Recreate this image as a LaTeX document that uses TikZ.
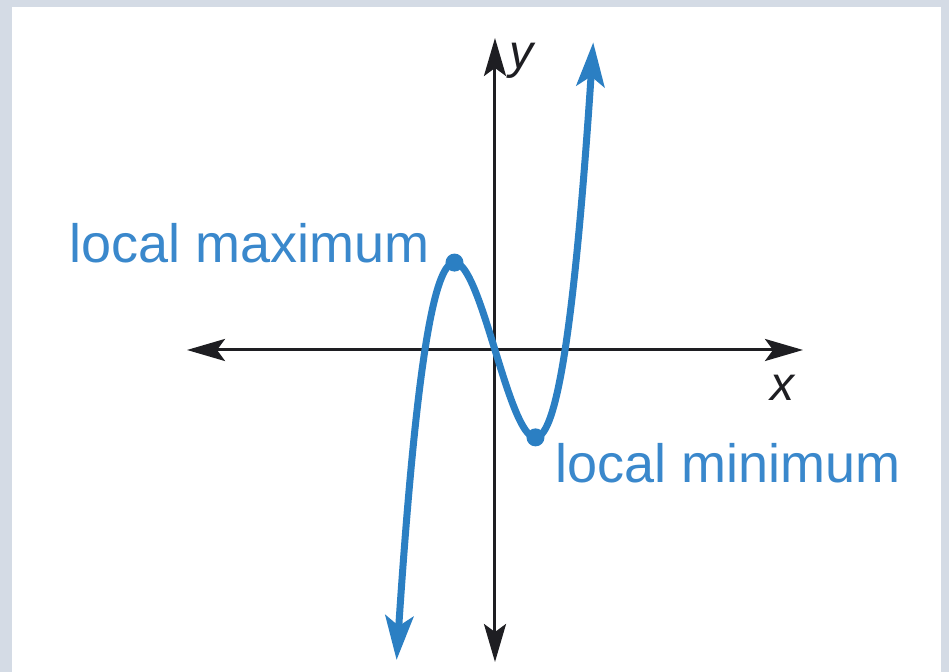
\documentclass[tikz,border=0pt]{standalone}
\usepackage{fontspec}
\setmainfont{Liberation Sans}
\usepackage{xcolor}
\usepackage{tikz}
\usetikzlibrary{positioning, arrows.meta, calc}
\definecolor{framegray}{HTML}{D4DBE5}
\definecolor{curveblue}{HTML}{2B7FC3}
\definecolor{labelblue}{HTML}{3A88CC}
\definecolor{axisgray}{HTML}{1E1E22}

\begin{document}
\begin{tikzpicture}[x=0.5pt, y=0.5pt,
    axis/.style={draw=axisgray, line width=1.5pt,
      arrows={Stealth[length=19pt, width=11pt, inset=4pt]-Stealth[length=19pt, width=11pt, inset=4pt]}},
    curve/.style={draw=curveblue, line width=3.5pt,
      arrows={Stealth[length=22pt, width=14pt, inset=5pt]-Stealth[length=22pt, width=14pt, inset=5pt]}},
    extremum/.style={circle, fill=curveblue, inner sep=0pt, minimum size=9pt},
    lbl/.style={text=labelblue, inner sep=0pt, font=\fontsize{27}{32}\selectfont},
    axlbl/.style={text=axisgray, inner sep=0pt, font=\fontsize{24}{28}\selectfont\itshape}]

    % frame
    \fill[framegray] (-495,-322) rectangle (454,350);
    \fill[white] (-483,-322) rectangle (446,343);

    % axes
    \coordinate (xl) at (-308,0);
    \coordinate (xr) at (308,0);
    \coordinate (yb) at (0,-312);
    \coordinate (yt) at (0,312);
    \draw[axis] (xl) -- (xr);
    \draw[axis] (yb) -- (yt);
    \node[axlbl] (xlab) at ($(xr)+(-20,-38)$) {x};
    \node[axlbl] (ylab) at ($(yt)+(27,-23)$) {y};

    % cubic
    \draw[curve] plot[domain=-0.984:0.984, samples=120, smooth] ({100*\x},{660*\x^3-324*\x});

    \node[extremum] (maxpt) at (-40.5,87.4) {};
    \node[extremum] (minpt) at (40.5,-87.4) {};

    \node[lbl, left=7.75pt of maxpt, anchor=base east] (maxlbl) {local maximum};
    \node[lbl, anchor=base west] (minlbl) at ($(minpt)+(19.5,-45.6)$) {local minimum};
  \end{tikzpicture}
\end{document}
